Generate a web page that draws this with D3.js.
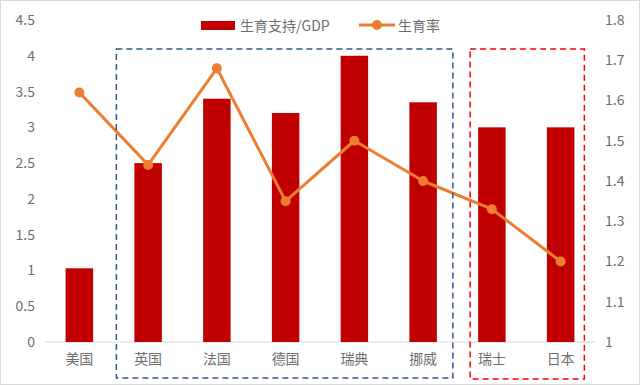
<!DOCTYPE html>
<html><head><meta charset="utf-8">
<script src="https://cdn.jsdelivr.net/npm/d3@7"></script>
<style>body{margin:0;background:#fff}svg{display:block}</style>
</head><body>
<svg id="c" width="640" height="385"></svg>
<script>
const categories = ["美国","英国","法国","德国","瑞典","挪威","瑞士","日本"];
const supportGDP = [1.03, 2.5, 3.4, 3.2, 4.0, 3.35, 3.0, 3.0];
const fertility = [1.62, 1.44, 1.68, 1.35, 1.5, 1.4, 1.33, 1.2];
const leftTicks = [0,0.5,1,1.5,2,2.5,3,3.5,4,4.5];
const rightTicks = [1,1.1,1.2,1.3,1.4,1.5,1.6,1.7,1.8];
const seriesNames = ["生育支持/GDP","生育率"];
const blueGroup = ["英国","挪威"];
const redGroup = ["瑞士","日本"];

const svg = d3.select("#c");
const font = "'Noto Sans CJK SC', 'Noto Sans', sans-serif";
const grey = "#6e6e6e";
const m = {l:45, r:45, t:20, b:43};
const W = 640, H = 385;
svg.append("rect").attr("x",0.5).attr("y",0.5).attr("width",W-1).attr("height",H-1)
  .attr("fill","#fff").attr("stroke","#d9d9d9");

const x = d3.scaleBand().domain(categories).range([m.l, W-m.r]).paddingInner(0.6).paddingOuter(0.3);
const yL = d3.scaleLinear().domain([0,4.5]).range([H-m.b, m.t]);
const yR = d3.scaleLinear().domain([1,1.8]).range([H-m.b, m.t]);

// baseline
svg.append("line").attr("x1",m.l).attr("x2",W-m.r).attr("y1",yL(0)).attr("y2",yL(0))
  .attr("stroke","#d9d9d9").attr("stroke-width",1);

// left axis
const axL = svg.append("g").attr("transform",`translate(${m.l-10},0)`)
  .call(d3.axisLeft(yL).tickValues(leftTicks).tickSize(0).tickPadding(0).tickFormat(d=>String(d)));
axL.select(".domain").remove();
axL.selectAll("text").attr("font-family",font).attr("font-size",14).attr("fill",grey);

const axR = svg.append("g").attr("transform",`translate(${W-m.r+10},0)`)
  .call(d3.axisRight(yR).tickValues(rightTicks).tickSize(0).tickPadding(0).tickFormat(d=>d3.format(".1~f")(d)));
axR.select(".domain").remove();
axR.selectAll("text").attr("font-family",font).attr("font-size",14).attr("fill",grey);

const axB = svg.append("g").attr("transform",`translate(0,${yL(0)})`)
  .call(d3.axisBottom(x).tickSize(0).tickPadding(12));
axB.select(".domain").remove();
axB.selectAll("text").attr("font-family",font).attr("font-size",14).attr("fill",grey);

// bars
svg.append("g").selectAll("rect").data(categories).join("rect")
  .attr("x",d=>x(d)).attr("width",x.bandwidth())
  .attr("y",(d,i)=>yL(supportGDP[i])).attr("height",(d,i)=>yL(0)-yL(supportGDP[i]))
  .attr("fill","#C00000");

// line
const line = d3.line().x((d,i)=>x(categories[i])+x.bandwidth()/2).y(d=>yR(d));
svg.append("path").datum(fertility).attr("d",line).attr("fill","none")
  .attr("stroke","#ED7D31").attr("stroke-width",3).attr("stroke-linejoin","round");
svg.append("g").selectAll("circle").data(fertility).join("circle")
  .attr("cx",(d,i)=>x(categories[i])+x.bandwidth()/2).attr("cy",d=>yR(d)).attr("r",5)
  .attr("fill","#ED7D31");

// dashed group boxes
function box(color, x1, x2, y1, y2){
  svg.append("rect").attr("x",x1).attr("y",y1).attr("width",x2-x1).attr("height",y2-y1)
    .attr("fill","none").attr("stroke",color).attr("stroke-width",1.5).attr("stroke-dasharray","6,4");
}
box("#2F5597", x(blueGroup[0])-18, x(blueGroup[1])+x.bandwidth()+16, 49, 378);
box("#FF0000", x(redGroup[0])-8, x(redGroup[1])+x.bandwidth()+10, 49, 379);

// legend
const lg = svg.append("g");
lg.append("rect").attr("x",201).attr("y",21).attr("width",34).attr("height",9).attr("fill","#C00000");
lg.append("text").attr("x",240).attr("y",31).text(seriesNames[0])
  .attr("font-family",font).attr("font-size",14).attr("fill",grey);
lg.append("line").attr("x1",359).attr("x2",395).attr("y1",25).attr("y2",25)
  .attr("stroke","#ED7D31").attr("stroke-width",3);
lg.append("circle").attr("cx",377).attr("cy",25).attr("r",5).attr("fill","#ED7D31");
lg.append("text").attr("x",398).attr("y",31).text(seriesNames[1])
  .attr("font-family",font).attr("font-size",14).attr("fill",grey);
</script>
</body></html>
